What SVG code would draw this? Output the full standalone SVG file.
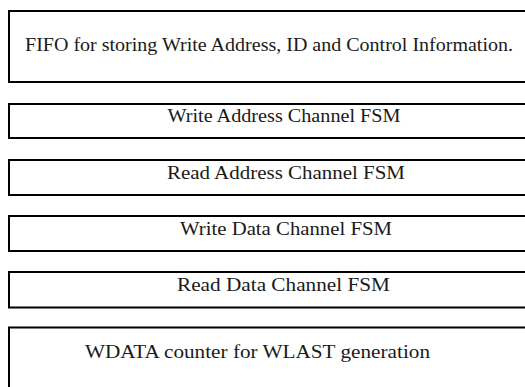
<svg xmlns="http://www.w3.org/2000/svg" width="525" height="387" viewBox="0 0 525 387">
<style>
.box{fill:#fff;stroke:#000;stroke-width:2}
.t{font-family:"Liberation Serif","Times New Roman",serif;font-size:18px;fill:#1a1a1a;text-anchor:middle}
</style>
<rect width="525" height="387" fill="#fff"/>
<g id="fifo"><rect class="box" x="9" y="11" width="540" height="71"/><text class="t" x="269" y="51" textLength="488" lengthAdjust="spacingAndGlyphs">FIFO for storing Write Address, ID and Control Information.</text></g>
<g id="waddr"><rect class="box" x="9" y="104" width="540" height="34"/><text class="t" x="284" y="122" textLength="233" lengthAdjust="spacingAndGlyphs">Write Address Channel FSM</text></g>
<g id="raddr"><rect class="box" x="9" y="160" width="540" height="35"/><text class="t" x="286" y="178.5" textLength="238" lengthAdjust="spacingAndGlyphs">Read Address Channel FSM</text></g>
<g id="wdata"><rect class="box" x="9" y="216" width="540" height="35"/><text class="t" x="286" y="235" textLength="212" lengthAdjust="spacingAndGlyphs">Write Data Channel FSM</text></g>
<g id="rdata"><rect class="box" x="9" y="272" width="540" height="35.5"/><text class="t" x="283.5" y="291" textLength="213" lengthAdjust="spacingAndGlyphs">Read Data Channel FSM</text></g>
<g id="wcnt"><rect class="box" x="9" y="327.5" width="540" height="80"/><text class="t" x="257.5" y="358" textLength="345" lengthAdjust="spacingAndGlyphs">WDATA counter for WLAST generation</text></g>
<g id="connectors"></g>
</svg>
